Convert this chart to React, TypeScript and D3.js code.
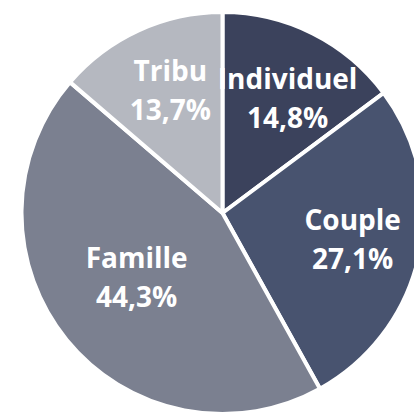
import React, { useEffect, useRef } from 'react';
import * as d3 from 'd3';

const categories = ['Individuel', 'Couple', 'Famille', 'Tribu'];
const values = [14.8, 27.1, 44.3, 13.7];
const labels = ['14,8%', '27,1%', '44,3%', '13,7%'];
const colors = ['#3b425c', '#48536f', '#7b8090', '#b5b8c0'];

// small label nudges (px), like Excel's "best fit" placement
const labelNudge: [number, number][] = [[9, 6], [8, 9], [11, -6], [0, 0]];

function PieChart() {
    const ref = useRef<SVGSVGElement | null>(null);
    const width = 414;
    const height = 415;
    const cx = 222.5;
    const cy = 213;
    const radius = 201;

    useEffect(() => {
        const svg = d3.select(ref.current);
        svg.selectAll('*').remove();

        const data = categories.map((c, i) => ({
            name: c, value: values[i], label: labels[i], color: colors[i], nudge: labelNudge[i],
        }));

        const pie = d3.pie<any>().value(d => d.value).sort(null);
        const arc = d3.arc<any>().innerRadius(0).outerRadius(radius);
        const labelArc = d3.arc<any>().innerRadius(125).outerRadius(125);

        const g = svg.append('g').attr('transform', `translate(${cx},${cy})`);
        const arcs = pie(data);

        g.selectAll('path')
            .data(arcs)
            .enter().append('path')
            .attr('d', arc)
            .attr('fill', d => d.data.color)
            .attr('stroke', '#ffffff')
            .attr('stroke-width', 4)
            .attr('stroke-linejoin', 'round');

        const text = g.selectAll('text')
            .data(arcs)
            .enter().append('text')
            .attr('transform', d => {
                const [x, y] = labelArc.centroid(d);
                return `translate(${x + d.data.nudge[0]},${y + d.data.nudge[1]})`;
            })
            .attr('text-anchor', 'middle')
            .attr('fill', '#ffffff')
            .style('font-family', '"Open Sans", sans-serif')
            .style('font-weight', 700)
            .style('font-size', '28px');

        text.append('tspan')
            .attr('x', 0)
            .attr('y', -18)
            .text(d => d.data.name);
        text.append('tspan')
            .attr('x', 0)
            .attr('y', 21)
            .text(d => d.data.label);
    }, []);

    return (
        <svg ref={ref} width={width} height={height}
            style={{ position: 'absolute', left: 0, top: 0, background: '#ffffff' }} />
    );
}

export default function App() {
    return <PieChart />;
}
